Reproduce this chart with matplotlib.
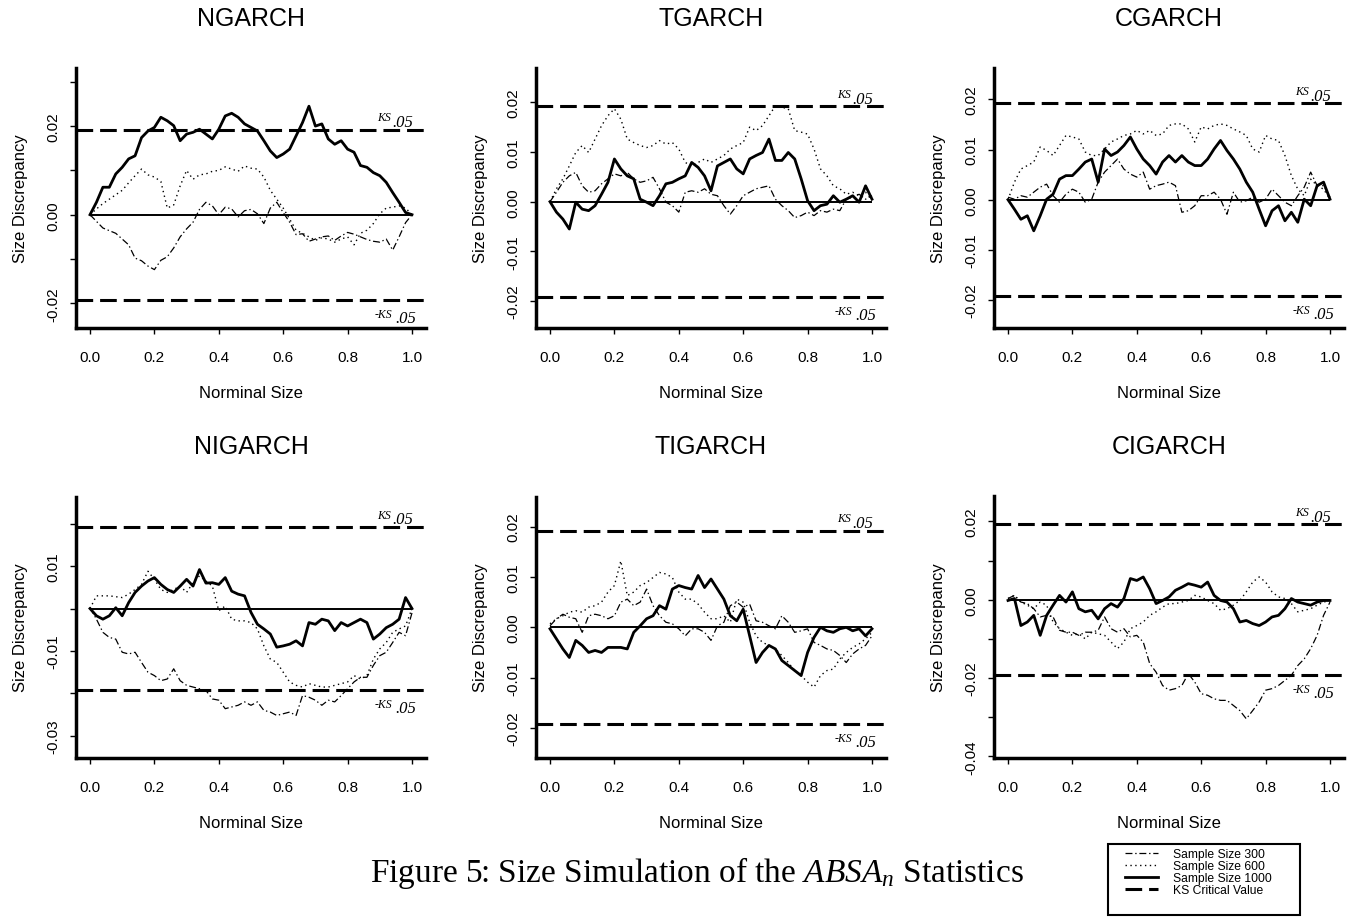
import numpy as np
import matplotlib.pyplot as plt
from matplotlib.lines import Line2D
from matplotlib.patches import Rectangle

plt.rcParams['font.family'] = ['Liberation Sans', 'DejaVu Sans']
plt.rcParams['mathtext.fontset'] = 'custom'
plt.rcParams['mathtext.rm'] = 'Liberation Serif'
plt.rcParams['mathtext.it'] = 'Liberation Serif:italic'
plt.rcParams['lines.scale_dashes'] = False

models = ["NGARCH", "TGARCH", "CGARCH", "NIGARCH", "TIGARCH", "CIGARCH"]
ks_crit = 0.0192

# size discrepancy, sampled every 0.02 of nominal size
ngarch_300 = [0, -.0015, -.0030, -.0036, -.0042, -.0055, -.0068, -.0098, -.0104, -.0116,
              -.0124, -.0103, -.0095, -.0075, -.0050, -.0032, -.0017, .0012, .0028, .0020,
              0, .0017, .0013, -.0005, .0009, .0012, .0002, -.0020, .0015, .0028,
              .0005, -.0017, -.0045, -.0043, -.0060, -.0055, -.0050, -.0048, -.0058, -.0048,
              -.0040, -.0044, -.0050, -.0056, -.0060, -.0062, -.0055, -.0080, -.0050, -.0018, 0]
ngarch_600 = [0, .0013, .0025, .0035, .0045, .0055, .0072, .0088, .0103, .0090,
              .0085, .0075, .0015, .0022, .0065, .0100, .0080, .0090, .0092, .0098,
              .0100, .0108, .0103, .0098, .0110, .0105, .0103, .0085, .0055, .0035,
              .0015, -.0010, -.0035, -.0042, -.0050, -.0058, -.0052, -.0055, -.0062, -.0055,
              -.0050, -.0068, -.0042, -.0035, -.0020, .0002, .0015, .0017, .0020, .0015, 0]
ngarch_1000 = [0, .0028, .0062, .0062, .0092, .0107, .0126, .0133, .0174, .0189,
               .0197, .0220, .0212, .0201, .0167, .0182, .0186, .0193, .0182, .0171,
               .0193, .0223, .0229, .0220, .0205, .0197, .0189, .0167, .0144, .0129,
               .0137, .0148, .0178, .0208, .0245, .0200, .0205, .0171, .0159, .0167,
               .0148, .0141, .0111, .0107, .0095, .0088, .0073, .0050, .0028, .0005, 0]

tgarch_300 = [0, .0019, .0039, .0052, .0059, .0032, .0019, .0022, .0036, .0046,
              .0056, .0052, .0059, .0046, .0039, .0042, .0049, .0026, -.0001, -.0008,
              -.0021, .0019, .0022, .0019, .0026, .0015, .0012, -.0008, -.0025, -.0008,
              .0012, .0019, .0026, .0029, .0032, .0005, -.0008, -.0018, -.0032, -.0028,
              -.0021, -.0028, -.0018, -.0021, -.0015, -.0018, .0005, .0009, .0015, .0005, .0012]
tgarch_600 = [0, .0026, .0046, .0072, .0099, .0113, .0099, .0126, .0153, .0173,
              .0187, .0166, .0126, .0119, .0113, .0109, .0113, .0123, .0116, .0119,
              .0106, .0079, .0072, .0079, .0086, .0079, .0086, .0093, .0106, .0113,
              .0119, .0150, .0143, .0153, .0173, .0193, .0190, .0187, .0143, .0140,
              .0136, .0106, .0066, .0052, .0032, .0026, .0015, .0019, .0012, .0019, .0005]
tgarch_1000 = [0, -.0021, -.0035, -.0055, -.0001, -.0015, -.0018, -.0008, .0015, .0039,
               .0086, .0066, .0052, .0046, .0005, -.0001, -.0008, .0012, .0036, .0039,
               .0046, .0052, .0079, .0069, .0052, .0022, .0072, .0079, .0086, .0066,
               .0056, .0086, .0093, .0099, .0126, .0083, .0083, .0099, .0086, .0046,
               .0002, -.0018, -.0008, -.0005, .0012, -.0001, .0005, .0012, -.0001, .0032, .0005]

cgarch_300 = [.0005, .0001, .0008, .0005, .0015, .0025, .0031, .0008, -.0005, .0011,
              .0021, .0015, -.0005, .0001, .0035, .0055, .0068, .0081, .0061, .0051,
              .0045, .0055, .0021, .0028, .0031, .0035, .0028, -.0025, -.0022, -.0012,
              .0008, .0008, .0015, .0001, -.0029, .0015, -.0005, -.0002, .0005, -.0005,
              .0001, .0021, .0008, -.0005, -.0012, .0008, .0025, .0055, .0028, .0028, .0005]
cgarch_600 = [0, .0035, .0061, .0068, .0075, .0105, .0098, .0088, .0108, .0128,
              .0125, .0121, .0095, .0088, .0088, .0101, .0115, .0121, .0128, .0131,
              .0138, .0131, .0138, .0128, .0131, .0148, .0151, .0151, .0141, .0115,
              .0145, .0141, .0148, .0151, .0148, .0141, .0135, .0128, .0101, .0095,
              .0128, .0121, .0118, .0088, .0048, .0021, .0008, .0041, .0028, .0021, .0001]
cgarch_1000 = [0, -.0019, -.0039, -.0032, -.0062, -.0032, .0001, .0011, .0041, .0048,
               .0048, .0061, .0075, .0081, .0035, .0101, .0088, .0095, .0108, .0125,
               .0101, .0081, .0068, .0051, .0075, .0088, .0075, .0088, .0075, .0068,
               .0068, .0081, .0101, .0118, .0098, .0081, .0061, .0035, .0015, -.0019,
               -.0052, -.0022, -.0012, -.0042, -.0025, -.0045, .0001, -.0012, .0028, .0035, .0001]

nigarch_300 = [.0002, -.0025, -.0056, -.0068, -.0072, -.0103, -.0107, -.0103, -.0127, -.0150,
               -.0158, -.0170, -.0166, -.0142, -.0170, -.0181, -.0185, -.0189, -.0193, -.0213,
               -.0216, -.0236, -.0232, -.0228, -.0220, -.0228, -.0220, -.0240, -.0244, -.0252,
               -.0248, -.0244, -.0252, -.0205, -.0209, -.0216, -.0228, -.0216, -.0220, -.0205,
               -.0189, -.0173, -.0162, -.0162, -.0134, -.0111, -.0103, -.0080, -.0056, -.0064, -.0010]
nigarch_600 = [0, .0030, .0030, .0030, .0028, .0026, .0034, .0045, .0057, .0088,
               .0069, .0045, .0038, .0045, .0053, .0038, .0061, .0077, .0065, .0053,
               -.0005, .0006, -.0025, -.0029, -.0029, -.0033, -.0048, -.0088, -.0119, -.0127,
               -.0150, -.0173, -.0181, -.0185, -.0177, -.0181, -.0185, -.0185, -.0181, -.0177,
               -.0173, -.0158, -.0166, -.0158, -.0119, -.0095, -.0080, -.0056, -.0048, -.0041, 0]
nigarch_1000 = [0, -.0017, -.0025, -.0017, .0002, -.0017, .0014, .0038, .0053, .0065,
                .0073, .0057, .0045, .0038, .0053, .0069, .0053, .0092, .0060, .0061,
                .0057, .0073, .0041, .0034, .0030, -.0009, -.0037, -.0048, -.0060, -.0091,
                -.0088, -.0084, -.0076, -.0088, -.0033, -.0037, -.0025, -.0029, -.0052, -.0033,
                -.0041, -.0033, -.0025, -.0033, -.0072, -.0060, -.0045, -.0037, -.0025, .0026, 0]

tigarch_300 = [.0003, .0017, .0026, .0020, .0017, -.0010, .0023, .0026, .0023, .0017,
               .0023, .0050, .0056, .0043, .0050, .0076, .0043, .0023, .0010, .0007,
               -.0003, -.0017, -.0003, -.0003, -.0010, -.0026, .0003, .0010, .0043, .0050,
               .0040, .0046, .0013, .0010, .0003, -.0003, .0023, .0010, -.0010, -.0007,
               -.0003, -.0030, -.0036, -.0043, -.0046, -.0056, -.0070, -.0053, -.0043, -.0036, -.0017]
tigarch_600 = [.0007, .0017, .0023, .0030, .0033, .0030, .0040, .0043, .0050, .0070,
               .0083, .0132, .0063, .0070, .0083, .0089, .0099, .0109, .0106, .0099,
               .0070, .0056, .0056, .0046, .0030, .0017, .0017, .0023, .0010, .0056,
               .0050, .0010, -.0017, -.0030, -.0036, -.0043, -.0056, -.0070, -.0086, -.0096,
               -.0109, -.0119, -.0096, -.0086, -.0083, -.0063, -.0050, -.0040, -.0033, -.0023, -.0010]
tigarch_1000 = [-.0003, -.0023, -.0043, -.0060, -.0026, -.0036, -.0050, -.0046, -.0050, -.0040,
                -.0040, -.0040, -.0043, -.0010, .0003, .0017, .0023, .0043, .0036, .0076,
                .0083, .0079, .0076, .0103, .0079, .0096, .0076, .0056, .0023, .0013,
                .0036, -.0017, -.0070, -.0050, -.0036, -.0043, -.0066, -.0076, -.0086, -.0096,
                -.0050, -.0020, 0, -.0007, -.0010, -.0003, 0, -.0007, -.0003, -.0017, -.0003]

cigarch_300 = [.0003, .0011, -.0006, -.0010, -.0023, -.0044, -.0040, -.0044, -.0078, -.0083,
               -.0083, -.0091, -.0083, -.0083, -.0078, -.0044, -.0074, -.0083, -.0074, -.0095,
               -.0091, -.0108, -.0163, -.0185, -.0219, -.0231, -.0227, -.0219, -.0189, -.0210,
               -.0240, -.0244, -.0253, -.0257, -.0257, -.0270, -.0283, -.0304, -.0283, -.0261,
               -.0231, -.0227, -.0219, -.0206, -.0193, -.0168, -.0151, -.0125, -.0091, -.0040, -.0006]
cigarch_600 = [.0003, .0011, -.0006, -.0014, -.0023, -.0006, -.0014, -.0057, -.0074, -.0083,
               -.0091, -.0087, -.0100, -.0083, -.0087, -.0091, -.0108, -.0125, -.0108, -.0074,
               -.0066, -.0057, -.0040, -.0031, -.0019, -.0010, -.0010, -.0006, -.0002, .0011,
               .0007, -.0002, -.0010, -.0027, -.0023, -.0014, -.0002, .0020, .0045, .0058,
               .0045, .0020, .0007, .0003, -.0010, -.0031, -.0027, -.0023, -.0014, -.0006, -.0002]
cigarch_1000 = [-.0002, .0003, -.0066, -.0057, -.0040, -.0091, -.0040, -.0014, .0011, -.0006,
                .0020, -.0023, -.0031, -.0027, -.0049, -.0023, -.0010, -.0019, .0003, .0054,
                .0049, .0058, .0028, -.0010, -.0002, .0007, .0024, .0032, .0041, .0037,
                .0032, .0045, .0011, -.0002, -.0006, -.0023, -.0057, -.0053, -.0061, -.0066,
                -.0057, -.0044, -.0040, -.0023, .0003, -.0006, -.0010, -.0014, -.0006, -.0002, -.0002]

series_300 = [ngarch_300, tgarch_300, cgarch_300, nigarch_300, tigarch_300, cigarch_300]
series_600 = [ngarch_600, tgarch_600, cgarch_600, nigarch_600, tigarch_600, cigarch_600]
series_1000 = [ngarch_1000, tgarch_1000, cgarch_1000, nigarch_1000, tigarch_1000, cigarch_1000]

x_ticks = [0.0, 0.2, 0.4, 0.6, 0.8, 1.0]
y_ticks = [[-0.02, -0.01, 0, 0.01, 0.02, 0.03],
           [-0.02, -0.01, 0, 0.01, 0.02],
           [-0.02, -0.01, 0, 0.01, 0.02],
           [-0.03, -0.02, -0.01, 0, 0.01, 0.02],
           [-0.02, -0.01, 0, 0.01, 0.02],
           [-0.04, -0.03, -0.02, -0.01, 0, 0.01, 0.02]]
y_ticklabels = [["-0.02", "", "0.00", "", "0.02", ""],
                ["-0.02", "-0.01", "0.00", "0.01", "0.02"],
                ["-0.02", "-0.01", "0.00", "0.01", "0.02"],
                ["-0.03", "", "-0.01", "", "0.01", ""],
                ["-0.02", "-0.01", "0.00", "0.01", "0.02"],
                ["-0.04", "", "-0.02", "", "0.00", "", "0.02"]]
y_limits = [(-0.02558, 0.03312), (-0.02541, 0.02690), (-0.02556, 0.02624),
            (-0.03511, 0.02642), (-0.02588, 0.02600), (-0.04028, 0.02634)]

W, H = 1348, 920
fig = plt.figure(figsize=(W / 100, H / 100), dpi=100)

col_zero = [90, 550, 1008]      # pixel where nominal size 0 sits
row_span = [(69, 329), (497.5, 758.5)]
px_per_unit = 322

style_300 = dict(color='black', lw=0.9, ls=(0, (5, 2, 1, 2)))
style_600 = dict(color='black', lw=1.0, ls=(0, (1, 2.5)))
style_1000 = dict(color='black', lw=2.0, ls='-')
style_ks = dict(color='black', lw=2.2, ls=(0, (12, 5)))

for i, name in enumerate(models):
    r, c = divmod(i, 3)
    top, bot = row_span[r]
    left = col_zero[c] - 0.045 * px_per_unit
    width = 1.09 * px_per_unit
    ax = fig.add_axes([left / W, 1 - bot / H, width / W, (bot - top) / H])
    ax.set_xlim(-0.045, 1.045)
    ax.set_ylim(*y_limits[i])

    for s in ['top', 'right']:
        ax.spines[s].set_visible(False)
    for s in ['left', 'bottom']:
        ax.spines[s].set_linewidth(2.5)

    ax.hlines(0, 0, 1, color='black', lw=1.4)
    y300 = series_300[i]
    ax.plot(np.linspace(0, 1, len(y300)), y300, **style_300)
    y600 = series_600[i]
    ax.plot(np.linspace(0, 1, len(y600)), y600, **style_600)
    y1000 = series_1000[i]
    ax.plot(np.linspace(0, 1, len(y1000)), y1000, **style_1000)
    ax.axhline(ks_crit, **style_ks)
    ax.axhline(-ks_crit, **style_ks)

    serif_it = dict(family='Liberation Serif', style='italic', textcoords='offset points', va='center')
    ax.annotate("KS", xy=(0.935, ks_crit), xytext=(0, 9), ha='right', fontsize=8.5, **serif_it)
    ax.annotate(".05", xy=(0.94, ks_crit), xytext=(0, 5.5), ha='left', fontsize=12, **serif_it)
    ax.annotate("-KS", xy=(0.94, -ks_crit), xytext=(0, -10), ha='right', fontsize=8.5, **serif_it)
    ax.annotate(".05", xy=(0.947, -ks_crit), xytext=(0, -13), ha='left', fontsize=12, **serif_it)

    ax.set_xticks(x_ticks)
    ax.set_xticklabels([f"{v:.1f}" for v in x_ticks])
    ax.set_yticks(y_ticks[i])
    ax.set_yticklabels(y_ticklabels[i])
    ax.tick_params(axis='both', direction='out', length=4, width=1, labelsize=11)
    ax.tick_params(axis='x', pad=12)
    ax.tick_params(axis='y', pad=7)
    for lab in ax.get_yticklabels():
        lab.set_rotation(90)
        lab.set_va('center')

    ax.set_xlabel("Norminal Size", fontsize=12)
    ax.xaxis.set_label_coords(0.5, -0.22)
    ax.set_ylabel("Size Discrepancy", fontsize=12)
    ax.yaxis.set_label_coords(-0.135, 0.5)
    ax.text(0.5, 1 + 50 / (bot - top), name, transform=ax.transAxes,
            ha='center', va='center', fontsize=18)

fig.text(697 / W, 1 - 873 / H, r"Figure 5: Size Simulation of the $ABSA_n$ Statistics",
         family='Liberation Serif', fontsize=24, ha='center', va='center')

# legend box
fig.patches.append(Rectangle((1108 / W, 1 - 916 / H), 192 / W, 71 / H,
                             transform=fig.transFigure, fill=False, lw=1.5, ec='black'))
handles = [Line2D([], [], **style_300), Line2D([], [], **style_600),
           Line2D([], [], **style_1000), Line2D([], [], **style_ks)]
labels = ["Sample Size 300", "Sample Size 600", "Sample Size 1000", "KS Critical Value"]
fig.legend(handles, labels, loc='upper left', bbox_to_anchor=(1125 / W, 1 - 849 / H),
           frameon=False, fontsize=8.7, handlelength=2.75, handletextpad=1.25,
           labelspacing=0.0, borderpad=0, borderaxespad=0)

fig.savefig("out.png", dpi=100)
